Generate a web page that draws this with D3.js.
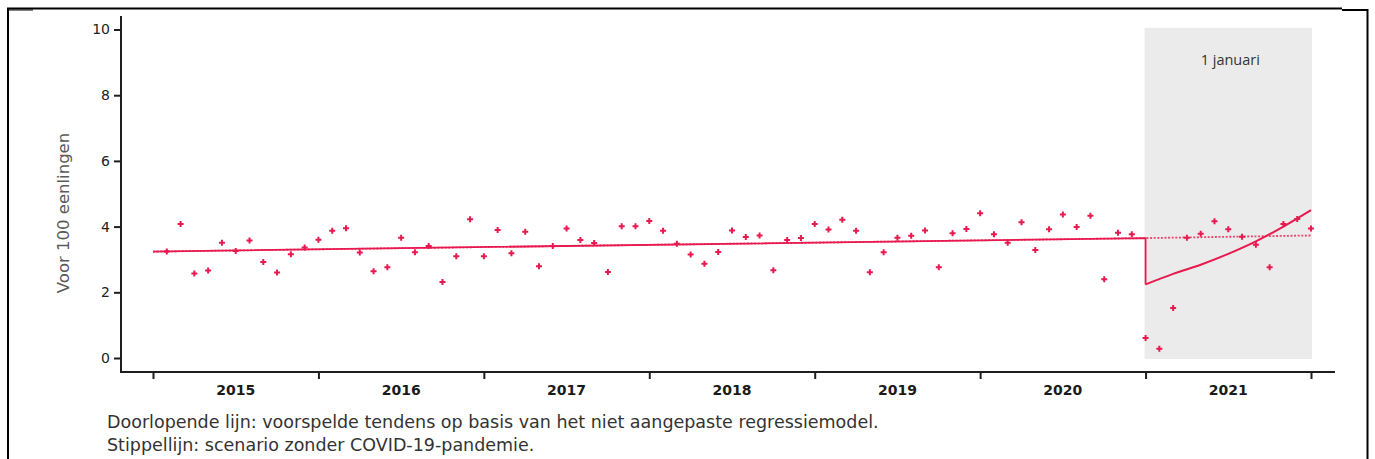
<!DOCTYPE html>
<html>
<head>
<meta charset="utf-8">
<script src="https://cdn.jsdelivr.net/npm/d3@7"></script>
<style>
body { margin: 0; background: #fff; }
</style>
</head>
<body>
<div id="graph"></div>
<script>
// year labels, one per 12 months
const years = ["2015", "2016", "2017", "2018", "2019", "2020", "2021"];
const yTicks = [0, 2, 4, 6, 8, 10];

// monthly values (per 100 eenlingen), 84 months
const values = [
  3.24, 4.08, 2.57, 2.66, 3.51, 3.26, 3.58, 2.92, 2.60, 3.16, 3.36, 3.60,
  3.87, 3.95, 3.21, 2.64, 2.76, 3.66, 3.22, 3.41, 2.31, 3.10, 4.22, 3.10,
  3.90, 3.19, 3.84, 2.79, 3.41, 3.94, 3.59, 3.50, 2.62, 4.01, 4.01, 4.17,
  3.87, 3.48, 3.15, 2.87, 3.23, 3.88, 3.68, 3.73, 2.67, 3.59, 3.65, 4.08,
  3.91, 4.21, 3.87, 2.61, 3.22, 3.66, 3.72, 3.88, 2.76, 3.80, 3.93, 4.41,
  3.77, 3.51, 4.13, 3.29, 3.92, 4.37, 3.99, 4.33, 2.40, 3.81, 3.77, 0.61,
  0.28, 1.52, 3.66, 3.78, 4.16, 3.92, 3.69, 3.45, 2.76, 4.08, 4.23, 3.94
];

// solid line: predicted trend (unadjusted regression model)
const trendMonths = [0, 72, 72];
const trendValues = [3.24, 3.65, 2.24];
const recoveryMonths = [72, 74, 76, 78, 80, 82, 84];
const recoveryValues = [2.24, 2.56, 2.84, 3.17, 3.55, 4.00, 4.50];

// dotted line: scenario without COVID-19
const scenarioMonths = [0, 72, 84];
const scenarioValues = [3.24, 3.65, 3.73];

const shadeMonths = [72, 84];
const shadeLabel = "1 januari";
const yLabel = "Voor 100 eenlingen";
const notes = [
  "Doorlopende lijn: voorspelde tendens op basis van het niet aangepaste regressiemodel.",
  "Stippellijn: scenario zonder COVID-19-pandemie."
];

const red = "#e8194f";
const ink = "#1e1e1e";

const width = 1375, height = 459;

const x = d3.scaleLinear().domain([0, 84]).range([153, 1311]);
const y = d3.scaleLinear().domain([0, 10]).range([358, 29.5]);

const svg = d3.select("#graph")
    .append("svg")
    .attr("width", width)
    .attr("height", height);

// outer frame
svg.append("path")
    .attr("d", "M8,459 V8.5 H1342 M1342,10 H1367.5 V459")
    .attr("fill", "none")
    .attr("stroke", "#000")
    .attr("stroke-width", 2);
svg.append("line")
    .attr("x1", 8).attr("x2", 33).attr("y1", 10).attr("y2", 10)
    .attr("stroke", "#000").attr("stroke-width", 1);

// shaded 2021 block
svg.append("rect")
    .attr("x", x(shadeMonths[0]) - 1)
    .attr("width", x(shadeMonths[1]) - x(shadeMonths[0]) + 2)
    .attr("y", y(10.05))
    .attr("height", y(-0.03) - y(10.05))
    .attr("fill", "#ebebeb");

svg.append("text")
    .attr("x", (x(shadeMonths[0]) + x(shadeMonths[1])) / 2 + 2)
    .attr("y", 65)
    .attr("text-anchor", "middle")
    .style("font-family", "'Open Sans', sans-serif")
    .style("font-size", "14.5px")
    .attr("fill", "#333")
    .text(shadeLabel);

// y axis
const yAxis = svg.append("g")
    .attr("transform", "translate(121,0)")
    .call(d3.axisLeft(y).tickValues(yTicks).tickSize(7).tickPadding(4));
yAxis.select(".domain").remove();
yAxis.selectAll("line").attr("stroke", ink).attr("stroke-width", 2);
yAxis.selectAll("text")
    .attr("fill", "#222")
    .style("font-family", "'DejaVu Sans', sans-serif")
    .style("font-size", "14px");
svg.append("line")
    .attr("x1", 121).attr("x2", 121).attr("y1", 16).attr("y2", 373)
    .attr("stroke", ink).attr("stroke-width", 2);

// x axis
const xAxis = svg.append("g")
    .attr("transform", "translate(0,372)")
    .call(d3.axisBottom(x).tickValues(d3.range(0, 85, 12)).tickSize(7).tickFormat(""));
xAxis.select(".domain").remove();
xAxis.selectAll("line").attr("stroke", ink).attr("stroke-width", 2);
svg.append("line")
    .attr("x1", 120).attr("x2", 1335).attr("y1", 372).attr("y2", 372)
    .attr("stroke", ink).attr("stroke-width", 2);

svg.selectAll(".year")
    .data(years)
    .enter().append("text")
    .attr("class", "year")
    .attr("x", function(d, i) { return x(i * 12 + 6); })
    .attr("y", 395)
    .attr("text-anchor", "middle")
    .attr("fill", "#1a1a1a")
    .style("font-family", "'DejaVu Sans', sans-serif")
    .style("font-weight", "bold")
    .style("font-size", "14px")
    .text(function(d) { return d; });

// y label
svg.append("text")
    .attr("transform", "translate(69,213) rotate(-90)")
    .attr("text-anchor", "middle")
    .attr("fill", "#5a5a5a")
    .style("font-family", "'DejaVu Sans', sans-serif")
    .style("font-size", "16.5px")
    .text(yLabel);

// lines
const line = d3.line()
    .x(function(d) { return x(d[0]); })
    .y(function(d) { return y(d[1]); });

svg.append("path")
    .datum(d3.zip(scenarioMonths, scenarioValues))
    .attr("d", line)
    .attr("fill", "none")
    .attr("stroke", red)
    .attr("stroke-opacity", 0.8)
    .attr("stroke-width", 1.8)
    .attr("stroke-dasharray", "2,1.6");

svg.append("path")
    .datum(d3.zip(trendMonths, trendValues))
    .attr("d", line)
    .attr("fill", "none")
    .attr("stroke", red)
    .attr("stroke-width", 1.8);

svg.append("path")
    .datum(d3.zip(recoveryMonths, recoveryValues))
    .attr("d", line.curve(d3.curveMonotoneX))
    .attr("fill", "none")
    .attr("stroke", red)
    .attr("stroke-width", 2);

// points
svg.selectAll(".pt")
    .data(values)
    .enter().append("path")
    .attr("class", "pt")
    .attr("d", d3.symbol().type(d3.symbolCross).size(20))
    .attr("transform", function(d, i) { return "translate(" + x(i + 1) + "," + y(d) + ")"; })
    .attr("fill", red);

// notes under the chart
svg.selectAll(".note")
    .data(notes)
    .enter().append("text")
    .attr("class", "note")
    .attr("x", 107)
    .attr("y", function(d, i) { return 428 + i * 22.5; })
    .attr("fill", "#333")
    .style("font-family", "'DejaVu Sans', sans-serif")
    .style("font-size", "17.5px")
    .text(function(d) { return d; });
</script>
</body>
</html>
